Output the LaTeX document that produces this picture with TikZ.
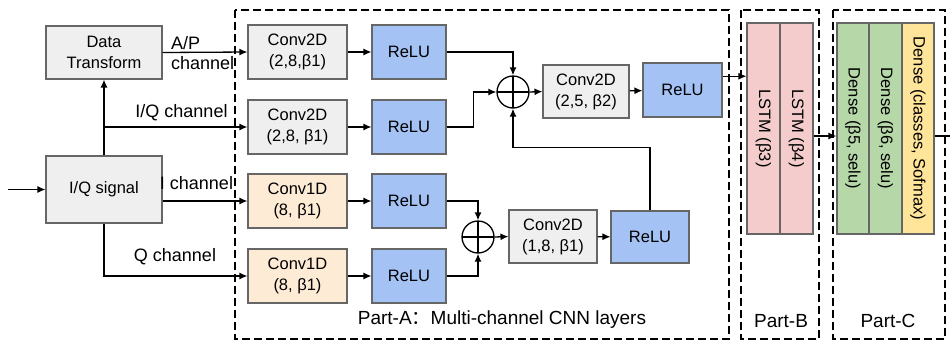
\documentclass[tikz,border=0pt]{standalone}
\usepackage{fontspec}
\setmainfont{Liberation Sans}
\newfontfamily\cjk{Noto Sans CJK SC}
\usetikzlibrary{arrows.meta,calc}
\definecolor{boxline}{HTML}{666666}
\definecolor{grayfill}{HTML}{EFEFEF}
\definecolor{bluefill}{HTML}{A4C2F4}
\definecolor{orangefill}{HTML}{FEEBD6}
\definecolor{pinkfill}{HTML}{F4CCCC}
\definecolor{greenfill}{HTML}{B6D7A8}
\definecolor{yellowfill}{HTML}{FFE599}
\begin{document}
\begin{tikzpicture}[x=1pt,y=-1pt,
  box/.style={draw=boxline,line width=1.1pt,inner sep=0pt,align=center,
    font=\fontsize{16.5}{21}\selectfont},
  graybox/.style={box,fill=grayfill},
  convbox/.style={graybox,minimum width=99pt,minimum height=54pt},
  obox/.style={box,fill=orangefill,minimum width=99pt,minimum height=54pt},
  relubox/.style={box,fill=bluefill,minimum width=74pt,minimum height=54pt},
  vbox/.style={box,minimum width=33pt,minimum height=211pt},
  lbl/.style={font=\fontsize{18}{20}\selectfont,inner sep=0pt},
  partlbl/.style={font=\fontsize{19}{22}\selectfont,inner sep=0pt},
  conn/.style={line width=1.3pt},
  arr/.style={conn,-{Latex[length=8pt,width=7pt]}},
  sumnode/.style={circle,draw,line width=1.3pt,minimum size=32pt,inner sep=0pt,
    path picture={\draw[line width=1.3pt] (path picture bounding box.north) -- (path picture bounding box.south)
      (path picture bounding box.west) -- (path picture bounding box.east);}},
  part/.style={draw,line width=2.3pt,dash pattern=on 8pt off 4pt}
]
\useasboundingbox (0,0) rectangle (950,341);

% dashed parts
\draw[part] (235,10) rectangle (729,339);
\draw[part] (741,10) rectangle (819,339);
\draw[part] (833,10) rectangle (945,339);

% input side
\node[graybox,minimum width=116pt,minimum height=53pt] (dt) at (104,52.5) {Data\\Transform};
\node[graybox,minimum width=116pt,minimum height=67pt] (iq) at (104,189.5) {I/Q signal};
\coordinate (in) at (8,189.5);

% branch 1..4
\node[convbox] (c1) at (297.5,52) {Conv2D\\(2,8,β1)};
\node[convbox] (c2) at (297.5,127) {Conv2D\\(2,8, β1)};
\node[obox] (c3) at (297.5,201) {Conv1D\\(8, β1)};
\node[obox] (c4) at (297.5,276) {Conv1D\\(8, β1)};
\node[relubox] (r1) at (409,52) {ReLU};
\node[relubox] (r2) at (409,127) {ReLU};
\node[relubox] (r3) at (409,201) {ReLU};
\node[relubox] (r4) at (409,276) {ReLU};

\node[sumnode] (s1) at (513,92) {};
\node[sumnode] (s2) at (478,237) {};

\node[graybox,minimum width=86pt,minimum height=53pt] (c5) at (586,91.5) {Conv2D\\(2,5, β2)};
\node[relubox,minimum width=79pt] (r5) at (682.5,90) {ReLU};
\node[graybox,minimum width=88pt,minimum height=53pt] (c6) at (553,236.5) {Conv2D\\(1,8, β1)};
\node[relubox,minimum width=78pt,minimum height=52pt] (r6) at (650,237) {ReLU};

% LSTM and dense
\node[vbox,fill=pinkfill] (l1) at (763.5,128.5) {};
\node[vbox,fill=pinkfill] (l2) at (796.5,128.5) {};
\node[vbox,fill=greenfill,minimum width=32pt] (d1) at (853,128.5) {};
\node[vbox,fill=greenfill] (d2) at (885.5,128.5) {};
\node[vbox,fill=yellowfill,minimum width=32pt] (d3) at (918,128.5) {};
\begin{scope}[every node/.style={rotate=-90,font=\fontsize{16.5}{20}\selectfont,inner sep=0pt}]
\node at (l1) {LSTM (β3)};
\node at (l2) {LSTM (β4)};
\node at (d1) {Dense (β5, selu)};
\node at (d2) {Dense (β6, selu)};
\node at (d3) {Dense (classes, Sofmax)};
\end{scope}

% labels
\node[lbl,align=left,anchor=west] (aplbl) at (171,53) {A/P\\channel};
\node[lbl] (iqlbl) at (181.5,113) {I/Q channel};
\node[lbl] (ilbl) at (196.5,183) {I channel};
\node[lbl] (qlbl) at (175,257) {Q channel};
\node[partlbl] (pa) at (502,320) {Part-A{\cjk ：}Multi-channel CNN layers};
\node[partlbl] (pb) at (781,321) {Part-B};
\node[partlbl] (pc) at (888,321) {Part-C};

% connectors left
\draw[arr] (in) -- (iq.west);
\draw[arr] (iq.north) -- (dt.south);
\draw[arr] (dt.east) -- (c1.west);
\draw[arr] (iq.north |- c2.west) -- (c2.west);
\draw[arr] (iq.east |- c3.west) -- (c3.west);
\draw[arr] (iq.south) |- (c4.west);

\draw[arr] (c1) -- (r1);
\draw[arr] (c2) -- (r2);
\draw[arr] (c3) -- (r3);
\draw[arr] (c4) -- (r4);

% sums
\draw[arr] (r1.east) -| (s1.north);
\draw[arr] (r2.east) -- ++(27,0) |- (s1.west);
\draw[arr] (r3.east) -| (s2.north);
\draw[arr] (r4.east) -| (s2.south);
\draw[arr] (s1.east) -- (c5.west);
\draw[arr] (c5) -- (r5);
\draw[arr] (s2.east) -- (c6.west);
\draw[arr] (c6) -- (r6);
\draw[arr] (r6.north) |- ($(s1.south)+(0,39)$) -- (s1.south);

% to LSTM and dense
\coordinate (r5o) at ($(r5.north east)!0.25!(r5.south east)$);
\draw[arr] (r5o) -- (r5o -| l1.west);
\coordinate (l2o) at (l2.east |- 0,136);
\draw[arr] (l2o) -- (l2o -| d1.west);
\coordinate (outp) at (950,136);
\draw[conn] (d3.east |- outp) -- (outp);
\end{tikzpicture}
\end{document}
